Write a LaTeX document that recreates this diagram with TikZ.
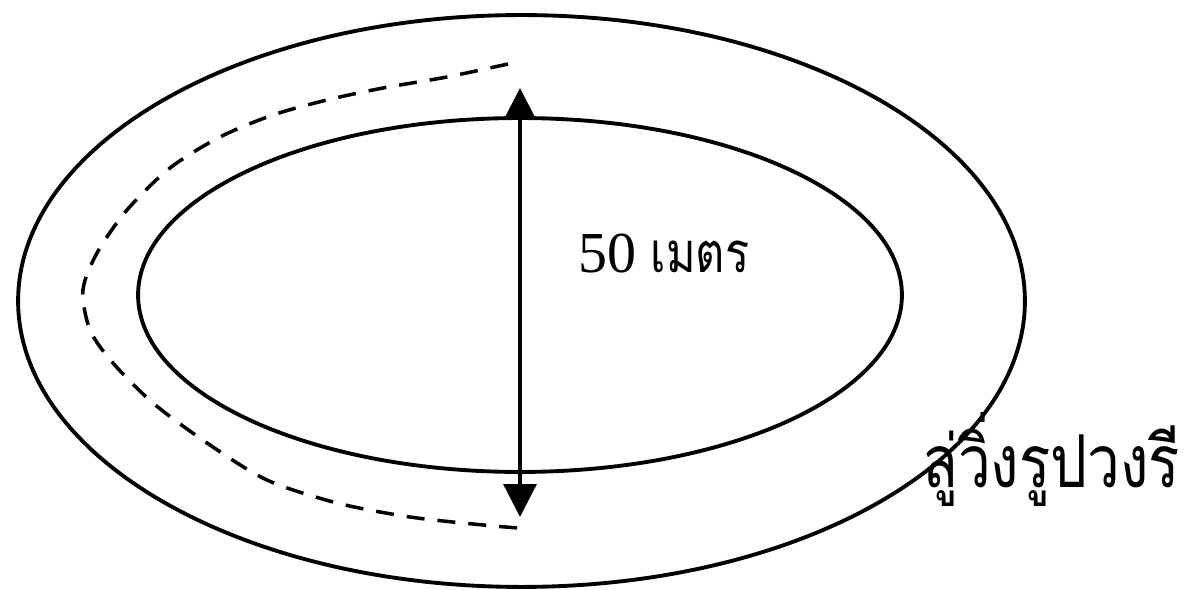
\documentclass[tikz,border=0pt]{standalone}
\usepackage{fontspec}
\setmainfont{Liberation Serif}
\newfontfamily\thaifont[Script=Thai,FakeStretch=0.8]{Loma}
\usetikzlibrary{shapes.geometric,arrows.meta}
\begin{document}
\begin{tikzpicture}[x=0.02cm,y=-0.02cm,
  track/.style={draw=black,line width=2.2pt,ellipse,inner sep=0pt,outer sep=0pt},
  dim/.style={line width=1.9pt,{Triangle[width=0.62cm,length=0.62cm]}-{Triangle[width=0.66cm,length=0.66cm]}},
  lane/.style={line width=2pt,dash pattern=on 0.36cm off 0.26cm},
  label/.style={inner sep=0pt,anchor=base west}]
\useasboundingbox (0,0) rectangle (1188,590);
\node[track,minimum width=20.14cm,minimum height=11.44cm] (outer) at (521.5,301) {};
\node[track,minimum width=15.28cm,minimum height=7.08cm] (inner) at (520,295) {};
\coordinate (top) at (520,88);
\coordinate (bot) at (520,517);
\draw[dim] (top) -- (bot);
\draw[lane] plot[smooth] coordinates {(508,64) (447,77) (383,88) (327,100) (273,115) (220,137) (170,168) (127,210) (97,253) (83,290) (90,330) (113,363) (153,403) (207,443) (267,480) (337,503) (410,517) (483,525) (518,528)};
\node[label] (width) at (578,273) {\fontsize{33}{36}\selectfont 50 {\fontsize{32}{36}\selectfont\thaifont เมตร}};
\node[label] (name) at (922,488) {\fontsize{41.5}{45}\selectfont\thaifont ลู่วิ่งรูปวงรี};
\end{tikzpicture}
\end{document}
